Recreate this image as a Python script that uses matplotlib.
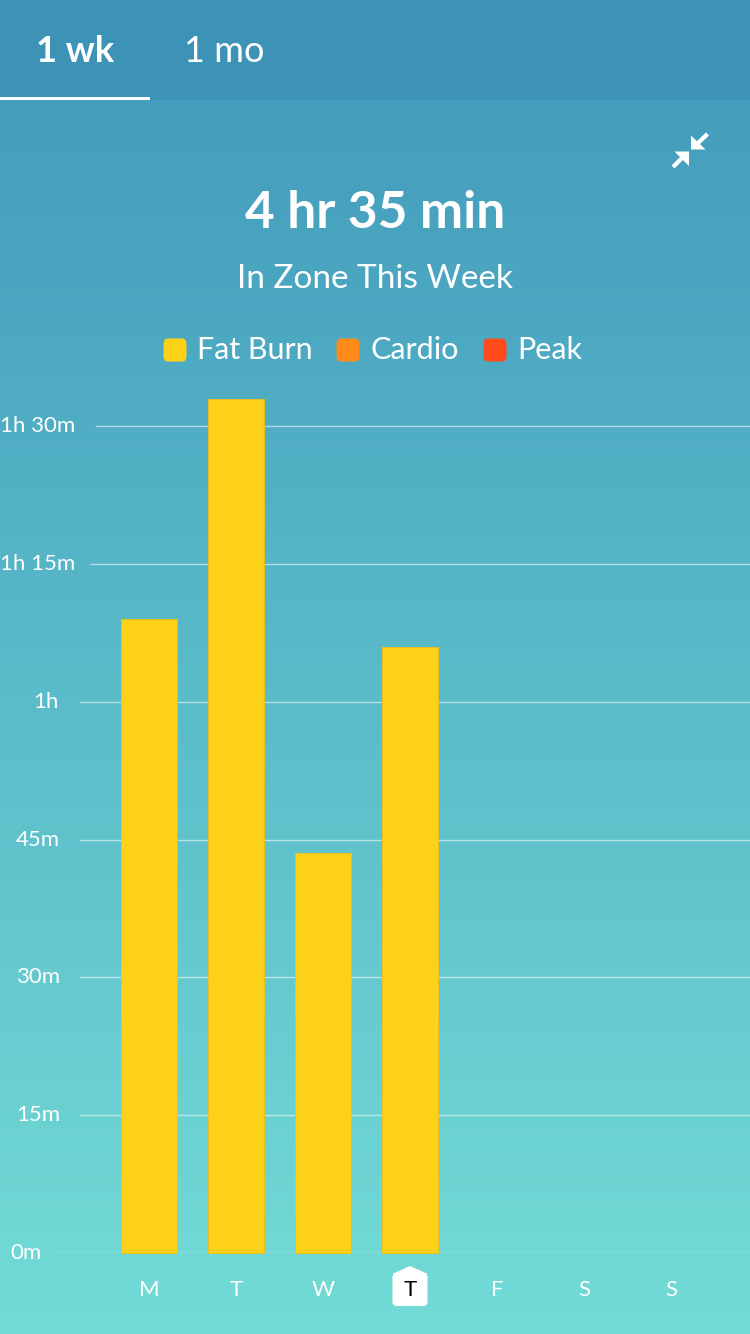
import numpy as np
import matplotlib
matplotlib.use("Agg")
import matplotlib.pyplot as plt
from matplotlib.patches import Polygon, FancyBboxPatch, Rectangle

# ---- data ----
days = ["M", "T", "W", "T", "F", "S", "S"]
fat_burn_min = [69, 93, 43.5, 66]          # minutes per day (Mon-Thu)
cardio_min = [0, 0, 0, 0]
peak_min = [0, 0, 0, 0]
tick_values = [0, 15, 30, 45, 60, 75, 90]
tick_labels = ["0m", "15m", "30m", "45m", "1h", "1h 15m", "1h 30m"]
legend_names = ["Fat Burn", "Cardio", "Peak"]
legend_colors = ["#fdd11a", "#ff8c1a", "#ff4a1c"]
title_text = "4 hr 35 min"
subtitle_text = "In Zone This Week"
tabs = ["1 wk", "1 mo"]
selected_day = 3

FONT = ["Lato", "DejaVu Sans"]
plt.rcParams["font.family"] = FONT

W, H = 750, 1334
fig = plt.figure(figsize=(W / 100, H / 100), dpi=100)

def fx(x):
    return x / W

def fy(y):
    return 1 - y / H

# ---- background gradient ----
bg = fig.add_axes([0, 0, 1, 1])
bg.set_axis_off()
top = np.array([64, 152, 187]) / 255
bot = np.array([115, 220, 214]) / 255
t = np.linspace(0, 1, 400)[:, None]
grad = (top[None, :] * (1 - t) + bot[None, :] * t)[:, None, :]
bg.imshow(grad, aspect="auto", extent=[0, 1, 0, 1], origin="upper")
bg.set_xlim(0, 1)
bg.set_ylim(0, 1)
# tab bar
fig.patches.append(Rectangle((0, fy(100)), 1, 100 / H, transform=fig.transFigure,
                             facecolor="#3d93b6", edgecolor="none", zorder=1))
fig.patches.append(Rectangle((0, fy(100)), 150 / W, 3 / H, transform=fig.transFigure,
                             facecolor="white", edgecolor="none", zorder=2))
fig.text(fx(75), fy(51), tabs[0], color="white", fontsize=26, fontweight="bold",
         ha="center", va="center")
fig.text(fx(224), fy(51), tabs[1], color="white", fontsize=26,
         ha="center", va="center")

# ---- compress icon ----
def poly(pts, **kw):
    fig.patches.append(Polygon([(fx(x), fy(y)) for x, y in pts], closed=True,
                               transform=fig.transFigure, facecolor="white",
                               edgecolor="none", zorder=3, **kw))

# upper-right arrow pointing down-left
poly([(691, 149.5), (691, 135.5), (705.5, 149.5)])
poly([(696, 142), (706, 132.5), (709, 135.5), (699, 145)])
# lower-left arrow pointing up-right
poly([(689, 151.5), (674.5, 151.5), (689, 166)])
poly([(684, 159), (674.5, 168.5), (671.5, 165.5), (681, 156)])

# ---- titles ----
fig.text(0.5, fy(213), title_text, color="white", fontsize=37, fontweight="bold",
         ha="center", va="center")
fig.text(0.5, fy(279), subtitle_text, color="white", fontsize=24,
         ha="center", va="center")

# ---- legend ----
leg_sq_x = [163, 336, 483]
for name, col, sx in zip(legend_names, legend_colors, leg_sq_x):
    fig.patches.append(FancyBboxPatch((fx(sx + 0.5), fy(361.5)), 23 / W, 23 / H,
                                      boxstyle="round,pad=0.0,rounding_size=0.005",
                                      transform=fig.transFigure, facecolor=col,
                                      edgecolor="none", zorder=3))
    fig.text(fx(sx + 34), fy(350), name, color="white", fontsize=22,
             ha="left", va="center")

# ---- chart ----
y0_px, ymax = 1253, 95
px_per_min = (1253 - 426.3) / 90
top_px = y0_px - ymax * px_per_min
ax = fig.add_axes([0, (H - y0_px) / H, 1, (y0_px - top_px) / H])
ax.set_facecolor("none")
for s in ax.spines.values():
    s.set_visible(False)
x_left, x_right = -149 / 87, (W - 149) / 87
ax.set_xlim(x_left, x_right)
ax.set_ylim(0, ymax)
ax.set_xticks([])
ax.set_yticks([])

label_x = [42, 60, 60, 60, 59, 0, 0]
label_ha = ["right", "right", "right", "right", "right", "left", "left"]
grid_start = [56, 80, 80, 80, 80, 90, 96]
for v, lab, lx, ha, gs in zip(tick_values, tick_labels, label_x, label_ha, grid_start):
    ax.axhline(v, xmin=gs / W, xmax=1, color="white", alpha=0.55, lw=1, zorder=1)
    ax.text(fx(lx), v, lab, transform=ax.get_yaxis_transform(), color="white",
            fontsize=16, ha=ha, va="center")

xs = np.arange(len(fat_burn_min))
ax.bar(xs, fat_burn_min, width=0.64, color=legend_colors[0], edgecolor="#f2c010",
       linewidth=0.6, zorder=2, clip_on=False)
ax.bar(xs, cardio_min, bottom=fat_burn_min, width=0.64, color=legend_colors[1],
       zorder=2, clip_on=False)

# ---- day labels ----
for i, d in enumerate(days):
    xc = 149 + 87 * i
    if i == selected_day:
        body = FancyBboxPatch((fx(xc - 17.5), fy(1306)), 35 / W, 33 / H,
                              boxstyle="round,pad=0,rounding_size=0.006",
                              transform=fig.transFigure, facecolor="white",
                              edgecolor="none", zorder=3, mutation_aspect=W / H)
        fig.patches.append(body)
        poly([(xc - 18, 1274), (xc, 1266), (xc + 18, 1274)])
        fig.text(fx(xc), fy(1290), d, color="black", fontsize=16, ha="center",
                 va="center", zorder=5)
    else:
        fig.text(fx(xc), fy(1290), d, color="white", fontsize=16, ha="center",
                 va="center")

fig.savefig("out.png", dpi=100)
